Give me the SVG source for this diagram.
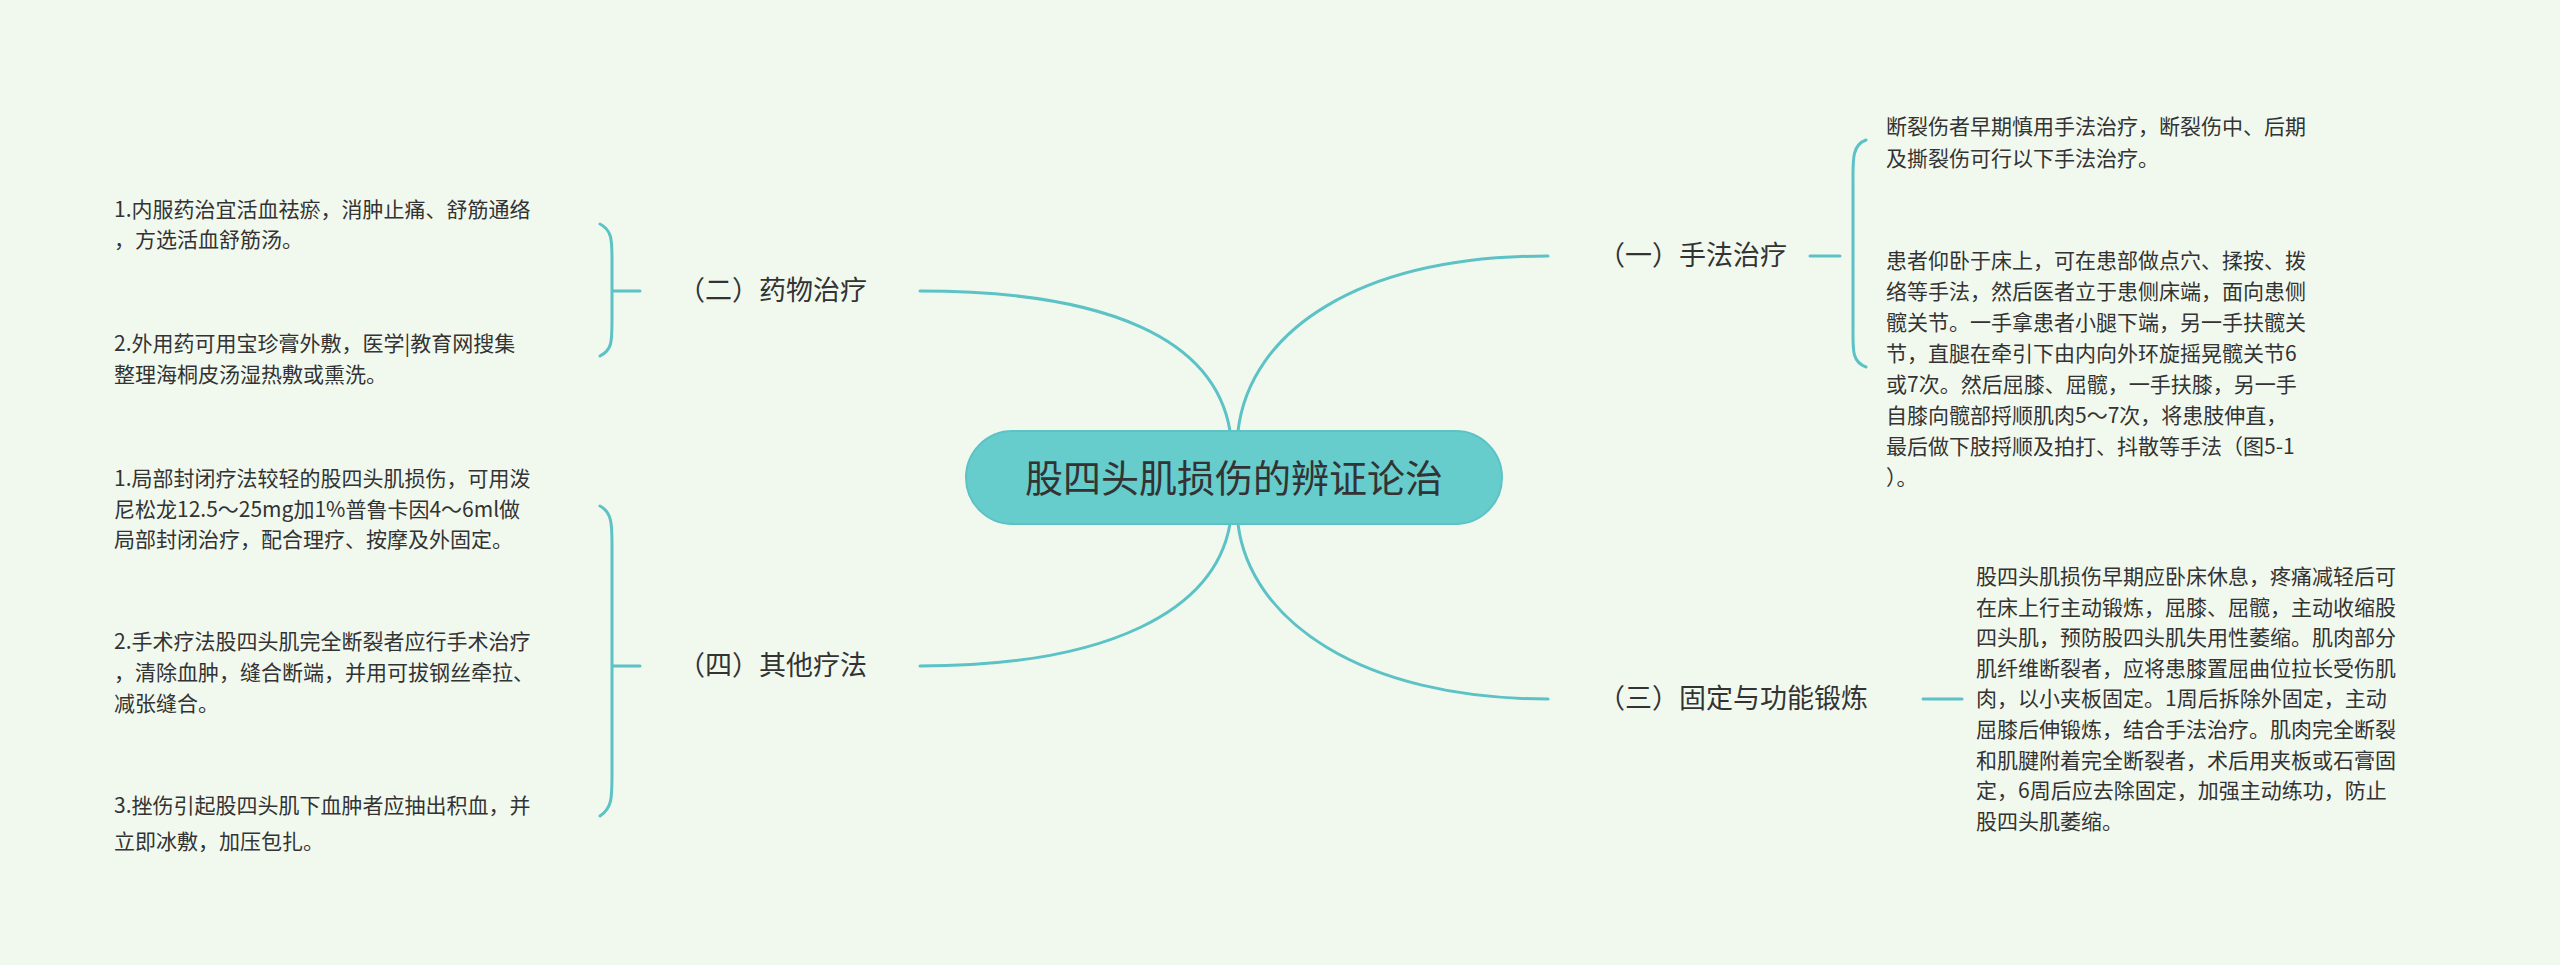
<svg xmlns="http://www.w3.org/2000/svg" width="2560" height="965" viewBox="0 0 2560 965">
<style>
text{font-family:"Noto Sans CJK SC","Noto Sans",sans-serif;fill:#333}
.leaf{font-size:21px}
.br{font-size:27px}
.ln{fill:none;stroke:#5cc2c6;stroke-width:3;stroke-linecap:round}
</style>
<rect width="2560" height="965" fill="#f1f9ef"/>
<g id="connectors">
<path class="ln" d="M1238 431 C1250 330 1360 256 1548 256"/>
<path class="ln" d="M1238 524 C1250 620 1360 699 1548 699"/>
<path class="ln" d="M1230 431 C1215 340 1110 291 920 291"/>
<path class="ln" d="M1230 524 C1215 610 1110 666 920 666"/>
<path class="ln" d="M1810 256 H1840 M1866 140 C1852 145 1853 160 1853 180 V330 C1853 350 1852 362 1866 367"/>
<path class="ln" d="M1923 699 H1962"/>
<path class="ln" d="M640 291 H612 M600 224 C612 230 612 240 612 260 V320 C612 342 612 350 600 356"/>
<path class="ln" d="M640 666 H612 M600 506 C612 512 612 525 612 545 V775 C612 798 612 808 600 816"/>
</g>
<g id="center">
<rect x="966" y="431" width="536" height="93" rx="46.5" fill="#66cccc" stroke="#5cc2c6" stroke-width="2"/>
<text x="1234" y="492" text-anchor="middle" font-size="38">股四头肌损伤的辨证论治</text>
</g>
<g id="b1"><text class="br" x="1598" y="265">（一）手法治疗</text></g>
<g id="b2"><text class="br" x="678" y="300">（二）药物治疗</text></g>
<g id="b3"><text class="br" x="1598" y="708">（三）固定与功能锻炼</text></g>
<g id="b4"><text class="br" x="678" y="675">（四）其他疗法</text></g>
<g id="l1a" class="leaf"><text x="1886" y="134">断裂伤者早期慎用手法治疗，断裂伤中、后期</text><text x="1886" y="166">及撕裂伤可行以下手法治疗。</text></g>
<g id="l1b" class="leaf">
<text x="1886" y="268">患者仰卧于床上，可在患部做点穴、揉按、拨</text>
<text x="1886" y="299">络等手法，然后医者立于患侧床端，面向患侧</text>
<text x="1886" y="330">髋关节。一手拿患者小腿下端，另一手扶髋关</text>
<text x="1886" y="361">节，直腿在牵引下由内向外环旋摇晃髋关节6</text>
<text x="1886" y="392">或7次。然后屈膝、屈髋，一手扶膝，另一手</text>
<text x="1886" y="423">自膝向髋部捋顺肌肉5～7次，将患肢伸直，</text>
<text x="1886" y="454">最后做下肢捋顺及拍打、抖散等手法（图5-1</text>
<text x="1886" y="485">）。</text>
</g>
<g id="l3" class="leaf">
<text x="1976" y="584">股四头肌损伤早期应卧床休息，疼痛减轻后可</text>
<text x="1976" y="615">在床上行主动锻炼，屈膝、屈髋，主动收缩股</text>
<text x="1976" y="645">四头肌，预防股四头肌失用性萎缩。肌肉部分</text>
<text x="1976" y="676">肌纤维断裂者，应将患膝置屈曲位拉长受伤肌</text>
<text x="1976" y="706">肉，以小夹板固定。1周后拆除外固定，主动</text>
<text x="1976" y="737">屈膝后伸锻炼，结合手法治疗。肌肉完全断裂</text>
<text x="1976" y="768">和肌腱附着完全断裂者，术后用夹板或石膏固</text>
<text x="1976" y="798">定，6周后应去除固定，加强主动练功，防止</text>
<text x="1976" y="829">股四头肌萎缩。</text>
</g>
<g id="l2a" class="leaf"><text x="114" y="217">1.内服药治宜活血祛瘀，消肿止痛、舒筋通络</text><text x="114" y="247">，方选活血舒筋汤。</text></g>
<g id="l2b" class="leaf"><text x="114" y="351">2.外用药可用宝珍膏外敷，医学|教育网搜集</text><text x="114" y="382">整理海桐皮汤湿热敷或熏洗。</text></g>
<g id="l4a" class="leaf"><text x="114" y="486">1.局部封闭疗法较轻的股四头肌损伤，可用泼</text><text x="114" y="517">尼松龙12.5～25mg加1%普鲁卡因4～6ml做</text><text x="114" y="547">局部封闭治疗，配合理疗、按摩及外固定。</text></g>
<g id="l4b" class="leaf"><text x="114" y="649">2.手术疗法股四头肌完全断裂者应行手术治疗</text><text x="114" y="680">，清除血肿，缝合断端，并用可拔钢丝牵拉、</text><text x="114" y="711">减张缝合。</text></g>
<g id="l4c" class="leaf"><text x="114" y="813">3.挫伤引起股四头肌下血肿者应抽出积血，并</text><text x="114" y="849">立即冰敷，加压包扎。</text></g>
</svg>
